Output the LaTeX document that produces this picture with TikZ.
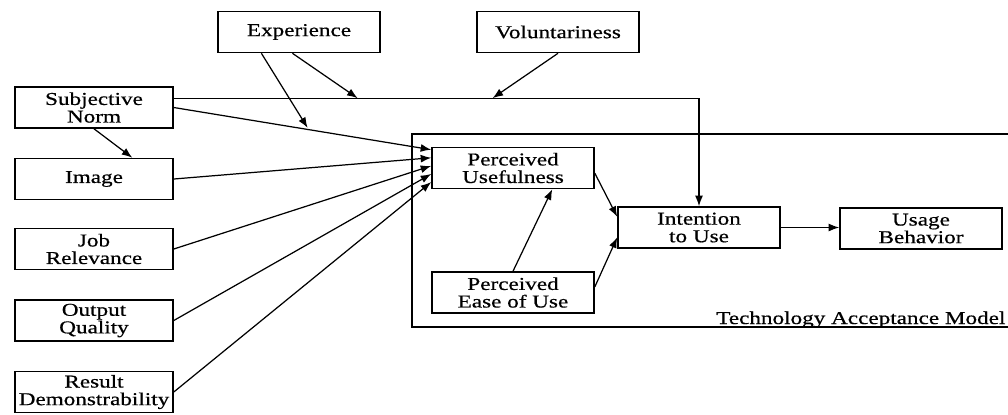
\documentclass[tikz,border=0pt]{standalone}
\usepackage{fontspec}
\setmainfont{Liberation Serif}[FakeStretch=1.28,FakeBold=0.6]
\usetikzlibrary{calc,arrows.meta}

\begin{document}
\begin{tikzpicture}[
   x=0.02cm, y=-0.02cm,
   >={Latex[length=6pt,width=4.5pt]},
   line width=.7pt,
   every node/.style={font=\fontsize{10.3}{10}\selectfont, align=center},
   box/.style={draw, line width=.9pt, minimum width=3.24cm, minimum height=.82cm, inner sep=1pt},
   lbox/.style={box, minimum width=3.16cm, inner xsep=0pt}]

\useasboundingbox (0,0) rectangle (1008,414);

% moderators
\node[box] (exp) at (299,32) {Experience};
\node[box] (vol) at (558,32) {Voluntariness};

% determinants
\node[lbox] (sn)  at (94,107.5) {Subjective\\Norm};
\node[lbox] (img) at (94,179)   {Image};
\node[lbox] (job) at (94,249)   {Job\\Relevance};
\node[lbox] (out) at (94,320.5) {Output\\Quality};
\node[lbox] (res) at (94,392)   {Result\\Demonstrability};

% TAM
\draw[line width=.9pt] (1008,134) -- (412,134) -- (412,327) -- (1008,327);
\node[anchor=base east, inner xsep=0pt] (tam) at (1006,324) {Technology Acceptance Model};
\node[box] (pu)   at (513,168)   {Perceived\\Usefulness};
\node[box] (peou) at (513,292.5) {Perceived\\Ease of Use};
\node[box] (itu)  at (699,227.5) {Intention\\to Use};
\node[box] (ub)   at (921,228.5) {Usage\\Behavior};

\coordinate (snout) at ($(sn.north east)!.28!(sn.south east)$);
\coordinate (bend) at (itu.north |- snout);
\draw[->] (snout) -- (bend) -- (itu.north);

\foreach \src/\f in {sn/.07, img/.26, job/.45, out/.64, res/.83}
   \draw[->] (\src.east) -- ($(pu.north west)!\f!(pu.south west)$);

\draw[->] (sn.south) -- ($(img.north)!.48!(img.north east)$);
\draw[->] ($(exp.south west)!.27!(exp.south east)$) -- ($(sn.east)!.52!(pu.north west)$);
\draw[->] ($(exp.south west)!.46!(exp.south east)$) -- ($(snout)!.35!(bend)$);
\draw[->] (vol.south) -- ($(snout)!.607!(bend)$);

\draw[->] ($(pu.north east)!.62!(pu.south east)$) -- ($(itu.north west)!.25!(itu.south west)$);
\draw[->] ($(peou.north east)!.37!(peou.south east)$) -- ($(itu.north west)!.73!(itu.south west)$);
\draw[->] (peou.north) -- ($(pu.south)!.48!(pu.south east)$);
\draw[->] (itu.east) -- (itu.east -| ub.west);

\end{tikzpicture}
\end{document}
